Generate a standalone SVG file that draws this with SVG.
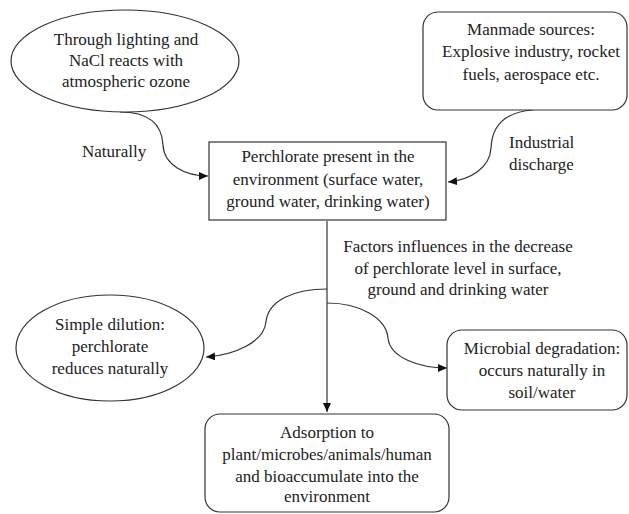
<svg xmlns="http://www.w3.org/2000/svg" width="629" height="514" viewBox="0 0 629 514">
<style>
.t{font-family:"Liberation Serif","Times New Roman",serif;font-size:17px;fill:#222;text-anchor:middle}
.l{text-anchor:start}
.s{fill:#fff;stroke:#333;stroke-width:1.2}
.c{fill:none;stroke:#333;stroke-width:1.2}
</style>
<defs>
<marker id="ah" markerUnits="userSpaceOnUse" markerWidth="10" markerHeight="8" refX="9" refY="4" orient="auto">
<path d="M0,0 L9,4 L0,8 Z" fill="#111"/>
</marker>
</defs>
<rect width="629" height="514" fill="#fff"/>
<g id="connectors">
<path class="c" d="M120 112 C150 112 162 125 163 145 C164 165 185 176 208 176" marker-end="url(#ah)"/>
<path class="c" d="M533 110 C505 112 492 125 491 148 C490 168 470 180 448 182" marker-end="url(#ah)"/>
<path class="c" d="M327 221 L327 412" stroke="#555" stroke-width="1.5" marker-end="url(#ah)"/>
<path class="c" d="M327 289 C295 289 268 300 266 322 C264 342 235 355 206 357" marker-end="url(#ah)"/>
<path class="c" d="M327 303 C360 303 386 318 388 338 C390 358 420 368 447 368" marker-end="url(#ah)"/>
</g>
<g id="n-natural">
<ellipse class="s" cx="125" cy="61" rx="114" ry="51"/>
<text class="t" x="126" y="45">Through lighting and</text>
<text class="t" x="126" y="66">NaCl reacts with</text>
<text class="t" x="126" y="87">atmospheric ozone</text>
</g>
<g id="n-manmade">
<rect class="s" x="423" y="12" width="204" height="98" rx="15"/>
<text class="t" x="531" y="35">Manmade sources:</text>
<text class="t" x="531" y="57">Explosive industry, rocket</text>
<text class="t" x="531" y="80">fuels, aerospace etc.</text>
</g>
<g id="n-perchlorate">
<rect class="s" x="209" y="142" width="237" height="78"/>
<text class="t" x="328" y="162">Perchlorate present in the</text>
<text class="t" x="328" y="185">environment (surface water,</text>
<text class="t" x="328" y="207">ground water, drinking water)</text>
</g>
<g id="l-naturally"><text class="t l" x="82" y="157">Naturally</text></g>
<g id="l-industrial">
<text class="t l" x="509" y="148">Industrial</text>
<text class="t l" x="509" y="170">discharge</text>
</g>
<g id="l-factors">
<text class="t" x="458" y="252">Factors influences in the decrease</text>
<text class="t" x="458" y="274">of perchlorate level in surface,</text>
<text class="t" x="458" y="295">ground and drinking water</text>
</g>
<g id="n-dilution">
<ellipse class="s" cx="110" cy="348" rx="94" ry="53"/>
<text class="t" x="110" y="330">Simple dilution:</text>
<text class="t" x="110" y="352">perchlorate</text>
<text class="t" x="110" y="374">reduces naturally</text>
</g>
<g id="n-microbial">
<rect class="s" x="447" y="330" width="180" height="80" rx="15"/>
<text class="t" x="542" y="354">Microbial degradation:</text>
<text class="t" x="542" y="376">occurs naturally in</text>
<text class="t" x="542" y="398">soil/water</text>
</g>
<g id="n-adsorption">
<rect class="s" x="205" y="414" width="244" height="98" rx="15"/>
<text class="t" x="327" y="438">Adsorption to</text>
<text class="t" x="327" y="460">plant/microbes/animals/human</text>
<text class="t" x="327" y="482">and bioaccumulate into the</text>
<text class="t" x="327" y="502">environment</text>
</g>
</svg>
